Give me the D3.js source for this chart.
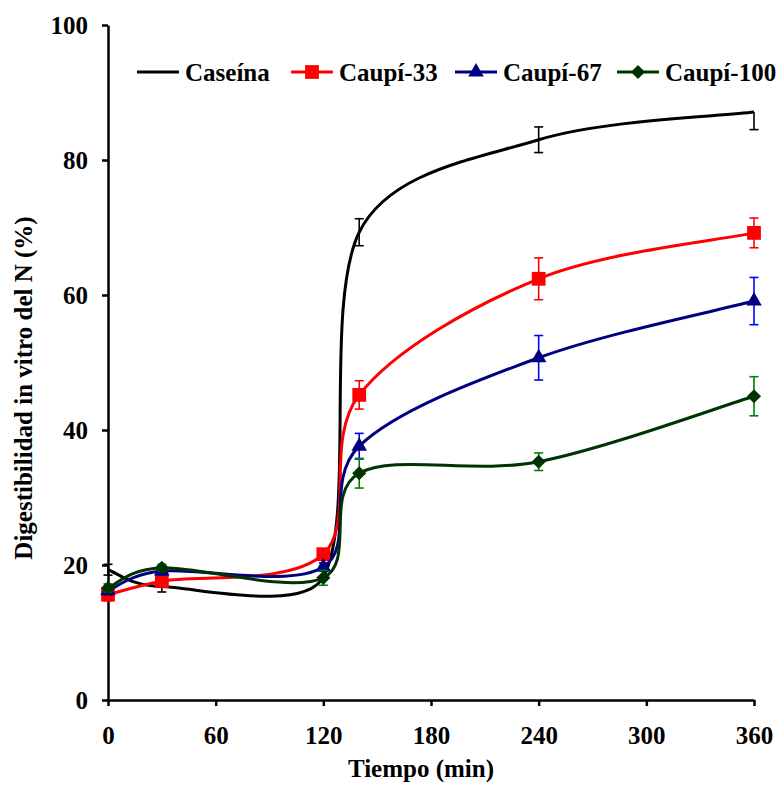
<!DOCTYPE html>
<html><head><meta charset="utf-8">
<script src="https://cdn.jsdelivr.net/npm/d3@7"></script>
<style>body{margin:0;background:#fff}</style>
</head><body>
<svg id="c" width="784" height="791"></svg>
<script>
const times = [0, 30, 120, 140, 240, 360];
const seriesNames = ["Caseína", "Caupí-33", "Caupí-67", "Caupí-100"];
const caseina   = [19.3, 16.8, 18.2, 69.3, 83.0, 87.1];
const caupi33   = [15.6, 17.6, 21.6, 45.2, 62.4, 69.2];
const caupi67   = [16.2, 19.1, 19.7, 37.6, 50.7, 59.1];
const caupi100  = [16.6, 19.6, 18.1, 33.6, 35.3, 45.0];
const errCaseinaUp   = [0.8, 0.6, 0, 2.0, 1.9, 0];
const errCaseinaDown = [0.8, 0.8, 0, 2.0, 1.9, 2.6];
const err33  = [0.9, 0.6, 0.6, 2.1, 3.1, 2.2];
const err67  = [0.6, 0.6, 0.6, 1.9, 3.3, 3.5];
const err100 = [0.6, 0.5, 1.1, 2.2, 1.3, 2.9];
const xTicks = [0, 60, 120, 180, 240, 300, 360];
const yTicks = [0, 20, 40, 60, 80, 100];

const lineColors = ["#000000", "#ff0000", "#000080", "#003300"];
const errColors  = ["#000000", "#ff0000", "#0000ff", "#008000"];

// diamond with equal diagonals
const diamondSym = { draw(ctx, size) { const r = Math.sqrt(size / 2);
  ctx.moveTo(0, -r); ctx.lineTo(r, 0); ctx.lineTo(0, r); ctx.lineTo(-r, 0); ctx.closePath(); } };
const markerTypes = [null, d3.symbolSquare, d3.symbolTriangle, diamondSym];
const markerSizes = [0, 190, 105, 100];

// Excel-like smoothed curve: Bezier, tangent factor 1/6, control arm capped at half segment
function excelCurve(context) {
  let pts = [];
  const K = 2.2; // vertical stretch of the original drawing space used for distances
  const dist = (a, b) => Math.hypot(a[0] - b[0], (a[1] - b[1]) * K);
  return {
    areaStart() {}, areaEnd() {},
    lineStart() { pts = []; },
    point(x, y) { pts.push([+x, +y]); },
    lineEnd() {
      const n = pts.length; if (!n) return;
      context.moveTo(pts[0][0], pts[0][1]);
      for (let i = 0; i < n - 1; i++) {
        const p0 = pts[i - 1] || pts[i], p1 = pts[i], p2 = pts[i + 1], p3 = pts[i + 2] || pts[i + 1];
        const d02 = dist(p0, p2), d12 = dist(p1, p2), d13 = dist(p1, p3);
        let f0 = 1 / 6, f3 = 1 / 6;
        if (d02 / 6 >= d12 / 2 && d02 > 0) f0 = d12 / d02 / 2;
        if (d13 / 6 >= d12 / 2 && d13 > 0) f3 = d12 / d13 / 2;
        context.bezierCurveTo(p1[0] + (p2[0] - p0[0]) * f0, p1[1] + (p2[1] - p0[1]) * f0,
                              p2[0] - (p3[0] - p1[0]) * f3, p2[1] - (p3[1] - p1[1]) * f3,
                              p2[0], p2[1]);
      }
    }
  };
}

const series = [
  {name: seriesNames[0], vals: caseina, up: errCaseinaUp, down: errCaseinaDown},
  {name: seriesNames[1], vals: caupi33, up: err33, down: err33},
  {name: seriesNames[2], vals: caupi67, up: err67, down: err67},
  {name: seriesNames[3], vals: caupi100, up: err100, down: err100}
];

const svg = d3.select("#c");
const font = "'Liberation Serif','Times New Roman',serif";
const x = d3.scaleLinear().domain([0, 360]).range([108, 754]);
const y = d3.scaleLinear().domain([0, 100]).range([700, 25]);

// axes
const xAxis = svg.append("g").attr("transform", "translate(0,700)")
  .call(d3.axisBottom(x).tickValues(xTicks).tickSize(6).tickSizeOuter(0).tickPadding(20));
const yAxis = svg.append("g").attr("transform", "translate(108,0)")
  .call(d3.axisLeft(y).tickValues(yTicks).tickSize(6).tickSizeOuter(0).tickPadding(14));
[xAxis, yAxis].forEach(a => {
  a.select(".domain").attr("stroke", "#000").attr("stroke-width", 2.5);
  a.selectAll(".tick line").attr("stroke", "#000").attr("stroke-width", 2.5);
  a.selectAll("text").attr("font-family", font).attr("font-weight", "bold")
    .attr("font-size", 25).attr("fill", "#000");
});

// titles
svg.append("text").attr("x", 421).attr("y", 777).attr("text-anchor", "middle")
  .attr("font-family", font).attr("font-weight", "bold").attr("font-size", 25)
  .text("Tiempo (min)");
svg.append("text").attr("transform", "translate(32,388) rotate(-90)").attr("text-anchor", "middle")
  .attr("font-family", font).attr("font-weight", "bold").attr("font-size", 25)
  .text("Digestibilidad in vitro del N (%)");

const line = d3.line().x(d => x(d[0])).y(d => y(d[1])).curve(excelCurve);

series.forEach((s, i) => {
  const g = svg.append("g");
  const pts = times.map((t, j) => [t, s.vals[j]]);
  // error bars
  pts.forEach((p, j) => {
    const top = y(p[1] + s.up[j]), bot = y(p[1] - s.down[j]), cx = x(p[0]);
    g.append("line").attr("x1", cx).attr("x2", cx).attr("y1", top).attr("y2", bot)
      .attr("stroke", errColors[i]).attr("stroke-width", 1.6);
    [top, bot].forEach((yy, k) => {
      if ((k === 0 && s.up[j] > 0) || (k === 1 && s.down[j] > 0))
        g.append("line").attr("x1", cx - 4.5).attr("x2", cx + 4.5).attr("y1", yy).attr("y2", yy)
          .attr("stroke", errColors[i]).attr("stroke-width", 1.6);
    });
  });
  g.append("path").attr("d", line(pts)).attr("fill", "none")
    .attr("stroke", lineColors[i]).attr("stroke-width", 3);
  if (markerTypes[i]) {
    g.selectAll("path.m").data(pts).enter().append("path").attr("class", "m")
      .attr("transform", d => `translate(${x(d[0])},${y(d[1])})`)
      .attr("d", d3.symbol().type(markerTypes[i]).size(markerSizes[i]))
      .attr("fill", lineColors[i]);
  }
});

// legend
const legX = [137, 291, 455, 617];
series.forEach((s, i) => {
  const g = svg.append("g").attr("transform", `translate(${legX[i]},72)`);
  g.append("line").attr("x1", 0).attr("x2", 42).attr("stroke", lineColors[i]).attr("stroke-width", 3);
  if (markerTypes[i]) g.append("path").attr("transform", "translate(21,0)")
    .attr("d", d3.symbol().type(markerTypes[i]).size(markerSizes[i])).attr("fill", lineColors[i]);
  g.append("text").attr("x", 48).attr("y", 0).attr("dy", "0.35em")
    .attr("font-family", font).attr("font-weight", "bold").attr("font-size", 25).text(s.name);
});
</script>
</body></html>
